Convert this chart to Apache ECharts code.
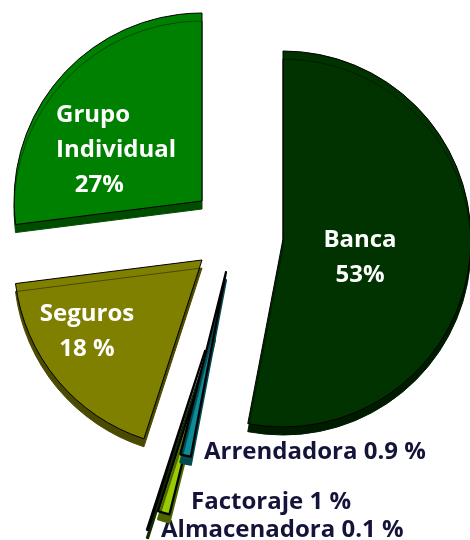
<!DOCTYPE html>
<html><head><meta charset="utf-8">
<script src="https://cdn.jsdelivr.net/npm/echarts@6/dist/echarts.min.js"></script>
<style>html,body{margin:0;padding:0;background:#fff}#c{width:470px;height:540px}</style>
</head><body><div id="c"></div>
<script>
// ---- data ----
const categories = ['Banca', 'Arrendadora', 'Factoraje', 'Almacenadora', 'Seguros', 'Grupo Individual'];
const values = [53, 0.9, 1, 0.1, 18, 27];
const labelTexts = ['Banca\n53%', 'Arrendadora 0.9 %', 'Factoraje 1 %', 'Almacenadora 0.1 %', 'Seguros\n18 %', 'Grupo\nIndividual\n   27%'];

// ---- styles ----
const fills = ['#003300', '#0b8c96', '#99cc00', '#2f5a10', '#808000', '#008000'];
const sides = ['#001c00', '#044a50', '#4d6600', '#102a05', '#4a4a00', '#004d00'];
const centers = [[283, 239], [226, 272], [215, 332], [205, 351], [202, 260], [202, 201]];
const labelPos = [
  {x: 360, y: 258, align: 'center'},
  {x: 204, y: 452, align: 'left'},
  {x: 191, y: 502, align: 'left'},
  {x: 161, y: 530, align: 'left'},
  {x: 87, y: 332, align: 'center'},
  {x: 56, y: 150, align: 'left'}
];
const inside = [true, false, false, false, true, true];
const fontFamily = '"Open Sans", sans-serif';

const chart = echarts.init(document.getElementById('c'), null, {renderer: 'canvas'});
const series = categories.map((name, i) => ({
  type: 'pie',
  center: centers[i],
  radius: 188,
  startAngle: 90,
  clockwise: true,
  silent: true,
  animation: false,
  avoidLabelOverlap: false,
  z: 2 + (i === 1 ? 3 : i === 2 ? 2 : i === 3 ? 1 : 0),
  data: categories.map((n, j) => ({
    name: n,
    value: values[j],
    itemStyle: j === i ? {
      color: fills[i], borderColor: '#000', borderWidth: i >= 1 && i <= 3 ? 2.2 : 1,
      shadowColor: sides[i], shadowBlur: 0, shadowOffsetX: 0, shadowOffsetY: 8
    } : {color: 'rgba(0,0,0,0)', borderWidth: 0},
    label: {show: j === i},
    labelLine: {show: false}
  })),
  label: {
    position: 'inside',
    formatter: () => labelTexts[i],
    color: inside[i] ? '#ffffff' : '#14143a',
    fontFamily: fontFamily,
    fontWeight: 'bold',
    fontSize: 24,
    lineHeight: 35,
    align: labelPos[i].align
  },
  labelLayout: (p) => p.dataIndex === i ? {
    x: labelPos[i].x, y: labelPos[i].y, align: labelPos[i].align, verticalAlign: 'middle'
  } : {}
}));

chart.setOption({
  backgroundColor: '#ffffff',
  animation: false,
  series: series
});
</script>
</body></html>
